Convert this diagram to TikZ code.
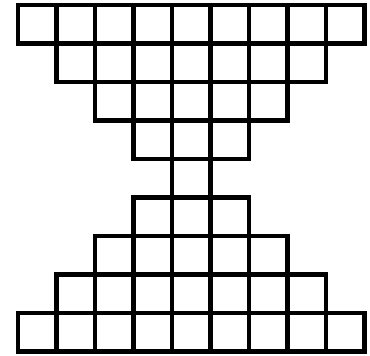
\documentclass[tikz,border=0pt]{standalone}
\usepackage{tikz}

\begin{document}
\begin{tikzpicture}[
			cell/.style={draw=black, line width=3.4pt, line join=miter},
		]
			\useasboundingbox (-0.47,-0.1) rectangle (9.14,9.13);
			% rows from top: number of squares in each row
			\foreach \r/\n in {0/9,1/7,2/5,3/3,4/1,5/3,6/5,7/7,8/9}{
				\pgfmathsetmacro{\off}{(9-\n)/2}
				\foreach \c in {1,...,\n}{
					\draw[cell] (\off+\c-1,8-\r) rectangle ++(1,1);
				}
			}
		\end{tikzpicture}
\end{document}
